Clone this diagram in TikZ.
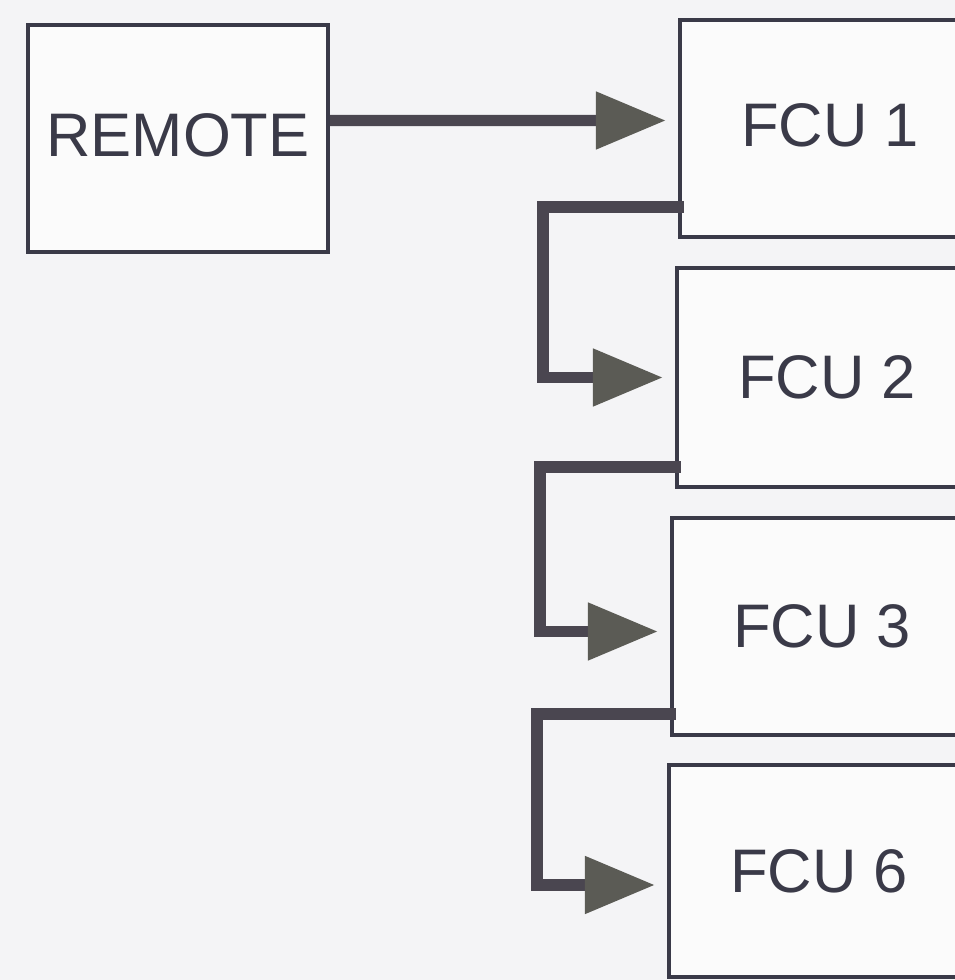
\documentclass[tikz,border=0pt]{standalone}
\usepackage{fontspec}
\setmainfont{Liberation Sans}
\usepackage{xcolor}
\usepackage{tikz}
\usetikzlibrary{arrows.meta,calc}
\definecolor{paperW}{HTML}{F4F4F6}
\definecolor{boxline}{HTML}{3A3A48}
\definecolor{wireG}{HTML}{4A4650}
\definecolor{tipG}{HTML}{5B5B55}

\begin{document}
\begin{tikzpicture}[
    unitbox/.style={draw=boxline, line width=1.2pt, minimum width=3cm, inner sep=0pt, font=\fontsize{17.5}{20}\selectfont\color{boxline}, fill=white!60!paperW},
    wire/.style={wireG, line width=3.2pt, shorten >=0.12cm, -{Triangle[length=7mm, width=5.5mm, fill=tipG, color=tipG]}}
]
\fill[paperW] (0,0) rectangle (9.55,9.8);
\useasboundingbox (0,0) rectangle (9.55,9.8);
\clip (0,0) rectangle (9.55,9.8);
\node[unitbox, minimum height=2.27cm] (remote) at (1.78, 8.415) {\raisebox{0.07cm}{REMOTE}};
\node[unitbox, minimum height=2.17cm, anchor=west] (fcu1) at (6.78, 8.515) {\raisebox{0.06cm}{FCU 1}};
\node[unitbox, minimum height=2.19cm, anchor=west] (fcu2) at (6.75, 6.025) {FCU 2};
\node[unitbox, minimum height=2.17cm, anchor=west] (fcu3) at (6.70, 3.535) {FCU 3};
\node[unitbox, minimum height=2.12cm, anchor=west] (fcu6) at (6.67, 1.09) {FCU 6};
\draw[wire] ([yshift=0.18cm]remote.east) -- ([yshift=0.08cm]fcu1.west);
\draw[wire, line cap=rect] ([yshift=0.32cm]fcu1.south west) -- ++(-1.35,0) |- (fcu2.west);
\draw[wire, line cap=rect] ([yshift=0.22cm]fcu2.south west) -- ++(-1.35,0) |- ([yshift=-0.05cm]fcu3.west);
\draw[wire, line cap=rect] ([yshift=0.23cm]fcu3.south west) -- ++(-1.33,0) |- ([yshift=-0.14cm]fcu6.west);
\end{tikzpicture}
\end{document}
